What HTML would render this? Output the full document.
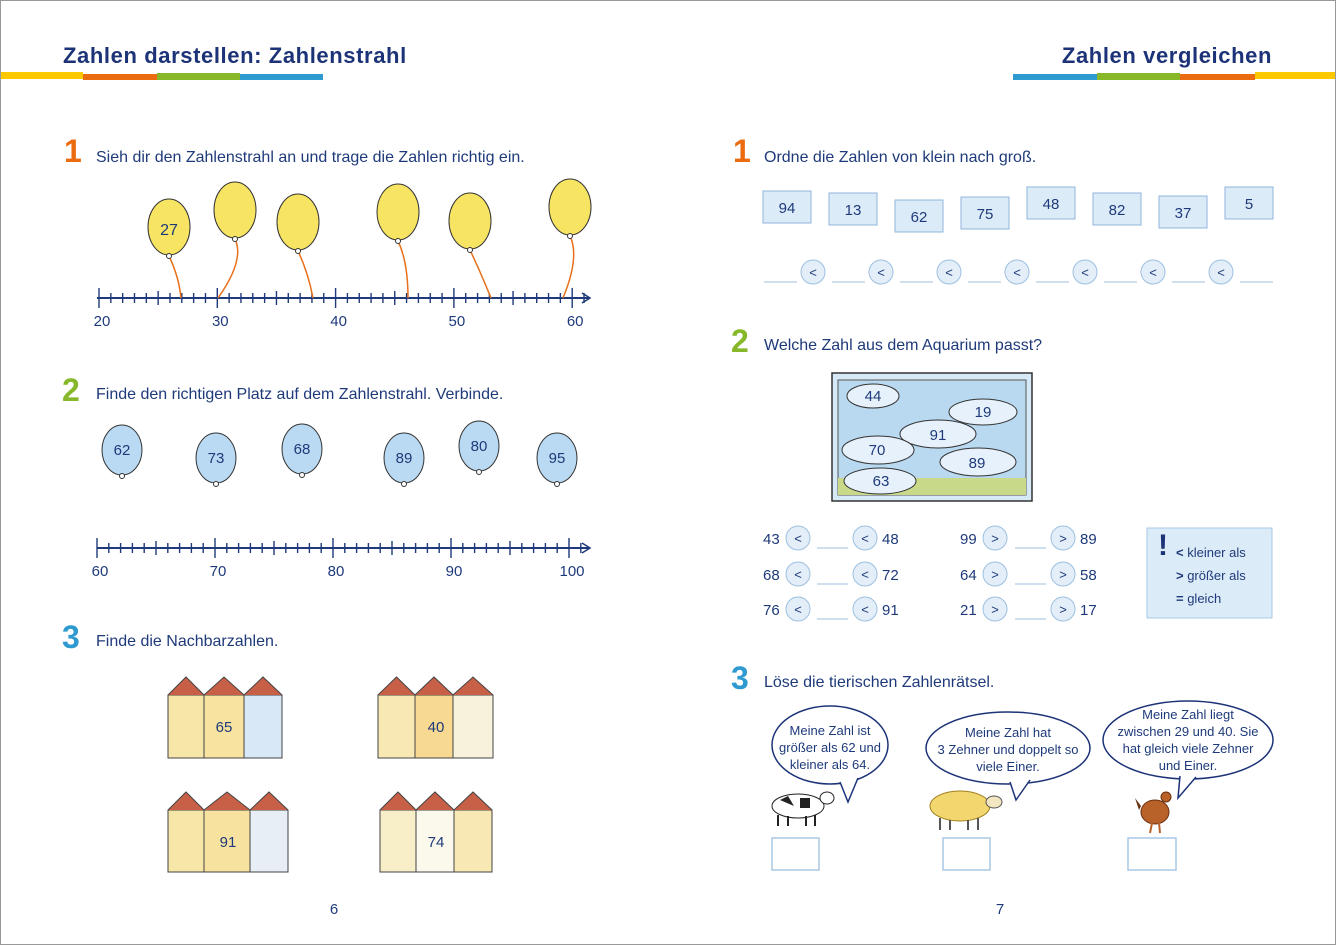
<!DOCTYPE html>
<html><head><meta charset="utf-8">
<style>
html,body{margin:0;padding:0;background:#fff}
#w{position:relative;width:1334px;height:943px;border:1px solid #999;overflow:hidden;font-family:"Liberation Sans",sans-serif}
svg text{font-family:"Liberation Sans",sans-serif;fill:#1e3a7a}
</style></head><body><div id="w">
<svg id="s" width="1334" height="943" viewBox="1 1 1334 943" xmlns="http://www.w3.org/2000/svg">
<!-- header bars -->
<rect x="0" y="72" width="83" height="7" fill="#fcc800"/>
<rect x="83" y="74" width="74" height="6" fill="#ea6b10"/>
<rect x="157" y="73" width="83" height="7" fill="#86b82a"/>
<rect x="240" y="74" width="83" height="6" fill="#2e9ad0"/>
<rect x="1013" y="74" width="84" height="6" fill="#2e9ad0"/>
<rect x="1097" y="73" width="83" height="7" fill="#86b82a"/>
<rect x="1180" y="74" width="75" height="6" fill="#ea6b10"/>
<rect x="1255" y="72" width="81" height="7" fill="#fcc800"/>
<text x="63" y="63" font-size="22" font-weight="bold" letter-spacing="0.6" style="fill:#1d3378">Zahlen darstellen: Zahlenstrahl</text>
<text x="1272" y="63" font-size="22" font-weight="bold" letter-spacing="0.6" text-anchor="end" style="fill:#1d3378">Zahlen vergleichen</text>

<text x="64" y="162" font-size="32" font-weight="bold" style="fill:#ea6b10">1</text>
<text x="96" y="162" font-size="16">Sieh dir den Zahlenstrahl an und trage die Zahlen richtig ein.</text>
<text x="62" y="401" font-size="32" font-weight="bold" style="fill:#86b82a">2</text>
<text x="96" y="399" font-size="16">Finde den richtigen Platz auf dem Zahlenstrahl. Verbinde.</text>
<text x="62" y="648" font-size="32" font-weight="bold" style="fill:#2e9ad0">3</text>
<text x="96" y="646" font-size="16">Finde die Nachbarzahlen.</text>

<text x="733" y="162" font-size="32" font-weight="bold" style="fill:#ea6b10">1</text>
<text x="764" y="162" font-size="16">Ordne die Zahlen von klein nach groß.</text>
<text x="731" y="352" font-size="32" font-weight="bold" style="fill:#86b82a">2</text>
<text x="764" y="350" font-size="16">Welche Zahl aus dem Aquarium passt?</text>
<text x="731" y="689" font-size="32" font-weight="bold" style="fill:#2e9ad0">3</text>
<text x="764" y="687" font-size="16">Löse die tierischen Zahlenrätsel.</text>

<g id="g1"></g>

<!-- aquarium -->
<rect x="832" y="373" width="200" height="128" fill="#d6e9f7" stroke="#333" stroke-width="1.5"/>
<rect x="838" y="380" width="188" height="115" fill="#b9d9f0" stroke="#555"/>
<rect x="838" y="478" width="188" height="17" fill="#c9d98a"/>
<g fill="#e6f1fb" stroke="#333">
<ellipse cx="873" cy="396" rx="26" ry="12"/><ellipse cx="983" cy="412" rx="34" ry="13"/>
<ellipse cx="938" cy="434" rx="38" ry="14"/><ellipse cx="878" cy="450" rx="36" ry="14"/>
<ellipse cx="978" cy="462" rx="38" ry="14"/><ellipse cx="880" cy="481" rx="36" ry="13"/>
</g>
<g font-size="15" text-anchor="middle">
<text x="873" y="401">44</text><text x="983" y="417">19</text><text x="938" y="440">91</text>
<text x="877" y="455">70</text><text x="977" y="468">89</text><text x="881" y="486">63</text>
</g>

<!-- info box -->
<rect x="1147" y="528" width="125" height="90" fill="#dcebf8" stroke="#a9c8e6"/>
<text x="1158" y="555" font-size="30" font-weight="bold" style="fill:#1d3378">!</text>
<g font-size="13">
<text x="1176" y="557"><tspan font-weight="bold">&lt;</tspan>  kleiner als</text>
<text x="1176" y="580"><tspan font-weight="bold">&gt;</tspan>  größer als</text>
<text x="1176" y="603"><tspan font-weight="bold">=</tspan>  gleich</text>
</g>

<!-- speech bubbles -->
<g fill="#fff" stroke="#1d3378" stroke-width="1.5">
<ellipse cx="830" cy="745" rx="58" ry="39"/><path d="M840 782 L848 802 L858 778" />
<ellipse cx="1008" cy="748" rx="82" ry="36"/><path d="M1010 782 L1016 800 L1030 780"/>
<ellipse cx="1188" cy="740" rx="85" ry="39"/><path d="M1180 776 L1178 798 L1196 777"/>
</g>
<g font-size="13" text-anchor="middle">
<text x="830" y="735">Meine Zahl ist</text><text x="830" y="752">größer als 62 und</text><text x="830" y="769">kleiner als 64.</text>
<text x="1008" y="737">Meine Zahl hat</text><text x="1008" y="754">3 Zehner und doppelt so</text><text x="1008" y="771">viele Einer.</text>
<text x="1188" y="719">Meine Zahl liegt</text><text x="1188" y="736">zwischen 29 und 40. Sie</text><text x="1188" y="753">hat gleich viele Zehner</text><text x="1188" y="770">und Einer.</text>
</g>
<!-- animals -->
<ellipse cx="798" cy="806" rx="26" ry="12" fill="#fff" stroke="#222"/>
<path d="M780 800 l8 -4 l6 10 z M800 798 l10 0 l0 10 l-10 0z" fill="#222"/>
<ellipse cx="827" cy="798" rx="7" ry="6" fill="#fff" stroke="#222"/>
<g stroke="#222" stroke-width="2"><line x1="778" y1="815" x2="778" y2="826"/><line x1="788" y1="816" x2="788" y2="826"/><line x1="806" y1="816" x2="806" y2="826"/><line x1="815" y1="815" x2="815" y2="826"/></g>
<ellipse cx="960" cy="806" rx="30" ry="15" fill="#f2d66e" stroke="#a08020"/>
<ellipse cx="994" cy="802" rx="8" ry="6" fill="#f2e7c0" stroke="#555"/>
<g stroke="#555" stroke-width="2"><line x1="940" y1="818" x2="940" y2="830"/><line x1="950" y1="820" x2="950" y2="830"/><line x1="968" y1="820" x2="968" y2="830"/><line x1="978" y1="818" x2="978" y2="830"/></g>
<ellipse cx="1155" cy="812" rx="14" ry="12" fill="#b8622a" stroke="#6a3010"/>
<circle cx="1166" cy="797" r="5" fill="#b8622a" stroke="#6a3010"/>
<path d="M1141 806 l-6 -8 l4 12z" fill="#6a3010"/>
<g stroke="#b8622a" stroke-width="2"><line x1="1152" y1="823" x2="1150" y2="833"/><line x1="1159" y1="823" x2="1160" y2="833"/></g>
<g fill="#fff" stroke="#a9c8e6" stroke-width="1.5">
<rect x="772" y="838" width="47" height="32"/><rect x="943" y="838" width="47" height="32"/><rect x="1128" y="838" width="48" height="32"/>
</g>

<text x="334" y="914" font-size="15" text-anchor="middle">6</text>
<text x="1000" y="914" font-size="15" text-anchor="middle">7</text>
</svg>
<script>
var g=document.getElementById('g1'),h='';
var C='#1e3a7a';
function line(x1,y1,x2,y2,c,w){h+='<line x1="'+x1+'" y1="'+y1+'" x2="'+x2+'" y2="'+y2+'" stroke="'+c+'" stroke-width="'+(w||1.5)+'"/>';}
function txt(x,y,t,s,a){h+='<text x="'+x+'" y="'+y+'" font-size="'+(s||15)+'" text-anchor="'+(a||'middle')+'">'+t+'</text>';}
function numline(y,x0,step,lo,labels,hi){
 line(97,y,589,y,C,2);h+='<path d="M582 '+(y-5)+' L590 '+y+' L582 '+(y+5)+'" fill="none" stroke="'+C+'" stroke-width="1.5"/>';
 for(var i=0;i<=hi;i++){var x=x0+i*step;if(x>585)break;var t=(i%10==0)?10:(i%5==0?7:5);line(x,y-t,x,y+t,C,1.4);}
 labels.forEach(function(l,k){txt(x0+k*10*step+3,y+28,l);});
}
numline(298,99,11.83,0,['20','30','40','50','60'],41);
numline(548,97,11.8,0,['60','70','80','90','100'],41);
var yb=[[169,227,27],[235,210],[298,222],[398,212],[470,221],[570,207]];
var yx=[181,218,313,408,491,563];
yb.forEach(function(b,i){
 h+='<path d="M'+b[0]+' '+(b[1]+29)+' Q'+(b[0]+10)+' '+(b[1]+50)+' '+yx[i]+' 298" fill="none" stroke="#e8701a" stroke-width="1.5"/>';
 h+='<ellipse cx="'+b[0]+'" cy="'+b[1]+'" rx="21" ry="28" fill="#f7e463" stroke="#333" stroke-width="1"/>';
 h+='<circle cx="'+b[0]+'" cy="'+(b[1]+29)+'" r="2.5" fill="#fff" stroke="#333"/>';
 if(b[2])txt(b[0],b[1]+8,b[2],16);
});
var bb=[[122,450,62],[216,458,73],[302,449,68],[404,458,89],[479,446,80],[557,458,95]];
bb.forEach(function(b){
 h+='<ellipse cx="'+b[0]+'" cy="'+b[1]+'" rx="20" ry="25" fill="#b9daf2" stroke="#333"/>';
 h+='<circle cx="'+b[0]+'" cy="'+(b[1]+26)+'" r="2.5" fill="#fff" stroke="#333"/>';
 txt(b[0],b[1]+5,b[2],15);
});
function house(x,y,cols,label,lx){
 var cx=x;cols.forEach(function(c){
  h+='<rect x="'+cx+'" y="'+y+'" width="'+c[0]+'" height="'+c[1]+'" fill="'+c[2]+'" stroke="#444"/>';
  h+='<path d="M'+cx+' '+y+' L'+(cx+c[0]/2)+' '+(y-18)+' L'+(cx+c[0])+' '+y+'" fill="#c86048" stroke="#444"/>';
  cx+=c[0];});
 txt(lx,y+37,label,15);
}
house(168,695,[[36,63,'#f6e6a8'],[40,63,'#f8e3a0'],[38,63,'#d8e8f6']],'65',224);
house(378,695,[[37,63,'#f8e8b4'],[38,63,'#f7d991'],[40,63,'#f8f2dc']],'40',436);
house(168,810,[[36,62,'#f6e6a8'],[46,62,'#f7e2a0'],[38,62,'#e8eef5']],'91',228);
house(380,810,[[36,62,'#f8eec8'],[38,62,'#fbf8ec'],[38,62,'#f8e8b4']],'74',436);
var nb=[[763,191,94],[829,193,13],[895,200,62],[961,197,75],[1027,187,48],[1093,193,82],[1159,196,37],[1225,187,5]];
nb.forEach(function(b){h+='<rect x="'+b[0]+'" y="'+b[1]+'" width="48" height="32" fill="#dcebf8" stroke="#8fb5dc"/>';txt(b[0]+24,b[1]+22,b[2],15);});
for(var i=0;i<8;i++){var x=764+i*68;line(x,282,x+33,282,'#9cc0e0',1);}
function circ(x,y,s){h+='<circle cx="'+x+'" cy="'+y+'" r="12" fill="#e3eef9" stroke="#9cc0e0"/>';txt(x,y+5,s,13);}
for(var i=0;i<7;i++)circ(813+i*68,272,'&lt;');
var L=[['43','48'],['68','72'],['76','91']],R=[['99','89'],['64','58'],['21','17']];
[538,574,609].forEach(function(y,k){
 txt(763,y+6,L[k][0],15,'start');circ(798,y,'&lt;');line(817,y+10,848,y+10,'#9cc0e0',1);circ(865,y,'&lt;');txt(882,y+6,L[k][1],15,'start');
 txt(960,y+6,R[k][0],15,'start');circ(995,y,'&gt;');line(1015,y+10,1046,y+10,'#9cc0e0',1);circ(1063,y,'&gt;');txt(1080,y+6,R[k][1],15,'start');
});
g.innerHTML=h;
</script>
</div></body></html>
